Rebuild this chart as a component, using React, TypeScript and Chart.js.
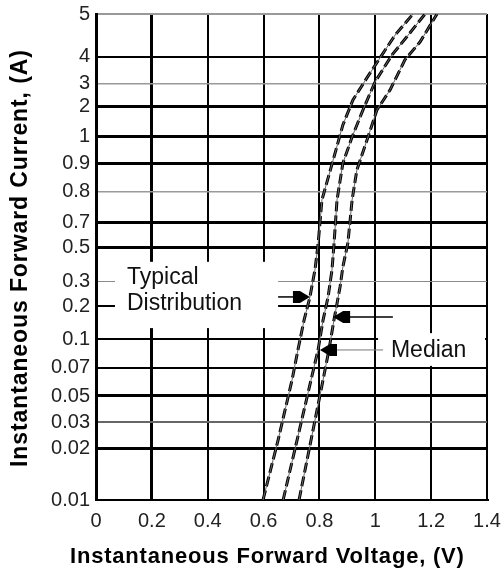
import React, { useEffect, useRef } from 'react';
import { Chart, registerables } from 'chart.js';

Chart.register(...registerables);

// ---- axis ticks ----
const xTickValues = [0, 0.2, 0.4, 0.6, 0.8, 1.0, 1.2, 1.4];
const xTickLabels = ['0', '0.2', '0.4', '0.6', '0.8', '1', '1.2', '1.4'];

const yTickValues = [0.01, 0.02, 0.03, 0.05, 0.07, 0.1, 0.2, 0.3, 0.5, 0.7, 0.8, 0.9, 1, 2, 3, 4, 5];
const yTickLabels = ['0.01', '0.02', '0.03', '0.05', '0.07', '0.1', '0.2', '0.3', '0.5', '0.7', '0.8', '0.9', '1', '2', '3', '4', '5'];
// the printed chart's own irregular current scale: relative height of each ruled line
const yTickPos = [0, 0.105, 0.16, 0.214, 0.272, 0.331, 0.399, 0.449, 0.519, 0.572, 0.634, 0.693, 0.747, 0.809, 0.856, 0.912, 1];

// ---- series (V, A) ----
const lowVoltage = [0.598, 0.652, 0.702, 0.723, 0.745, 0.766, 0.784, 0.795, 0.809, 0.849, 0.884, 0.92, 0.97, 1.024, 1.071, 1.135];
const lowCurrent = [0.01, 0.0229, 0.0606, 0.0874, 0.149, 0.233, 0.359, 0.52, 0.772, 0.911, 1.32, 2.26, 3.2, 4.04, 4.48, 5];
const medianVoltage = [0.67, 0.72, 0.77, 0.795, 0.813, 0.831, 0.845, 0.852, 0.863, 0.884, 0.917, 0.956, 0.999, 1.06, 1.113, 1.178];
const medianCurrent = [0.01, 0.0229, 0.0606, 0.0874, 0.149, 0.233, 0.359, 0.52, 0.772, 0.9, 1.0, 1.866, 3.064, 4.04, 4.44, 5];
const highVoltage = [0.727, 0.77, 0.813, 0.834, 0.852, 0.874, 0.884, 0.902, 0.917, 0.934, 0.974, 1.006, 1.053, 1.106, 1.16, 1.221];
const highCurrent = [0.01, 0.0229, 0.0606, 0.0874, 0.149, 0.276, 0.376, 0.533, 0.772, 0.875, 1.0, 1.866, 2.7, 3.87, 4.32, 5];

// ---- annotations (in V / A) ----
const noteTexts = [
  { text: 'Typical', v: 0.111, a: 0.29 },
  { text: 'Distribution', v: 0.111, a: 0.184 },
  { text: 'Median', v: 1.056, a: 0.0801 },
];
const noteArrows = [
  { fromV: 0.652, toV: 0.766, a: 0.233, line: '#000', lw: 1.5 },
  { fromV: 1.063, toV: 0.849, a: 0.159, line: '#000', lw: 1.5 },
  { fromV: 1.028, toV: 0.802, a: 0.0874, line: '#777', lw: 1 },
];
const noteMasks = [
  { v0: 0.068, v1: 0.652, aTop: 0.405, aBottom: 0.126 },
  { v0: 1.01, v1: 1.393, aTop: 0.1134, aBottom: 0.0717 },
];

// ---- styles ----
const yGridColors = ['#000', '#000', '#666', '#000', '#000', '#000', '#000', '#8a8a8a', '#000', '#000', '#999', '#000', '#000', '#000', '#999', '#000', '#999'];
const yGridWidths = [2, 3, 2, 3, 2, 2, 2, 1, 3, 3, 1.5, 3, 3, 3, 1.5, 2, 2];
const xGridWidths = [3, 3, 2, 2, 2, 2, 2, 2];
const FONT = '"Liberation Sans", Arial, Helvetica, sans-serif';

const toPos = (a: number) => {
  if (a <= yTickValues[0]) return yTickPos[0];
  for (let k = 0; k < yTickValues.length - 1; k++) {
    const lo = yTickValues[k];
    const hi = yTickValues[k + 1];
    if (a <= hi) {
      const t = Math.log(a / lo) / Math.log(hi / lo);
      return yTickPos[k] + t * (yTickPos[k + 1] - yTickPos[k]);
    }
  }
  return yTickPos[yTickPos.length - 1];
};

const pts = (vs: number[], as: number[]) => vs.map((v, i) => ({ x: v, y: toPos(as[i]) }));

const annotationPlugin = {
  id: 'dsAnnotations',
  beforeDatasetsDraw(chart: any) {
    const { ctx, scales } = chart;
    const x = scales.x;
    const y = scales.y;
    ctx.save();
    ctx.fillStyle = '#fff';
    for (const m of noteMasks) {
      const x0 = x.getPixelForValue(m.v0);
      const x1 = x.getPixelForValue(m.v1);
      const y0 = y.getPixelForValue(toPos(m.aTop));
      const y1 = y.getPixelForValue(toPos(m.aBottom));
      ctx.fillRect(x0, y0, x1 - x0, y1 - y0);
    }
    ctx.restore();
  },
  afterDatasetsDraw(chart: any) {
    const { ctx, scales } = chart;
    const x = scales.x;
    const y = scales.y;
    ctx.save();
    for (const ar of noteArrows) {
      const yy = y.getPixelForValue(toPos(ar.a));
      const xf = x.getPixelForValue(ar.fromV);
      const xt = x.getPixelForValue(ar.toV);
      const dir = xt > xf ? 1 : -1;
      ctx.strokeStyle = ar.line;
      ctx.lineWidth = ar.lw;
      ctx.beginPath();
      ctx.moveTo(xf, yy);
      ctx.lineTo(xt - dir * 12, yy);
      ctx.stroke();
      ctx.fillStyle = '#000';
      ctx.beginPath();
      ctx.moveTo(xt, yy);
      ctx.lineTo(xt - dir * 10, yy - 6);
      ctx.lineTo(xt - dir * 17, yy - 6);
      ctx.lineTo(xt - dir * 17, yy + 6);
      ctx.lineTo(xt - dir * 10, yy + 6);
      ctx.closePath();
      ctx.fill();
    }
    ctx.fillStyle = '#111';
    ctx.font = `23px ${FONT}`;
    ctx.textAlign = 'left';
    ctx.textBaseline = 'alphabetic';
    for (const t of noteTexts) {
      ctx.fillText(t.text, x.getPixelForValue(t.v), y.getPixelForValue(toPos(t.a)));
    }
    ctx.restore();
  },
  afterDraw(chart: any) {
    const { ctx } = chart;
    ctx.save();
    ctx.fillStyle = '#000';
    ctx.font = `bold 22px ${FONT}`;
    (ctx as any).letterSpacing = '0.8px';
    ctx.textAlign = 'left';
    ctx.textBaseline = 'alphabetic';
    ctx.fillText('Instantaneous Forward Voltage, (V)', 70, 563);
    ctx.font = `bold 23px ${FONT}`;
    (ctx as any).letterSpacing = '0.9px';
    ctx.translate(27, 467);
    ctx.rotate(-Math.PI / 2);
    ctx.fillText('Instantaneous Forward Current, (A)', 0, 0);
    (ctx as any).letterSpacing = '0px';
    ctx.restore();
  },
};

const curveSets = [
  { label: 'Low', data: pts(lowVoltage, lowCurrent) },
  { label: 'Median', data: pts(medianVoltage, medianCurrent) },
  { label: 'High', data: pts(highVoltage, highCurrent) },
];

export default function App() {
  const ref = useRef<HTMLCanvasElement>(null);
  useEffect(() => {
    document.body.style.margin = '0';
    const datasets: any[] = [];
    for (const c of curveSets) {
      datasets.push({
        label: c.label + ' trace',
        data: c.data,
        borderColor: '#666',
        borderWidth: 1,
        pointRadius: 0,
        tension: 0,
        fill: false,
      });
      datasets.push({
        label: c.label,
        data: c.data,
        borderColor: '#000',
        borderWidth: 3,
        borderDash: [10, 4],
        pointRadius: 0,
        tension: 0,
        fill: false,
      });
    }
    const chart = new Chart(ref.current as HTMLCanvasElement, {
      type: 'line',
      data: { datasets },
      options: {
        responsive: false,
        animation: false,
        devicePixelRatio: 1,
        events: [],
        layout: { padding: { top: 14, right: 15, left: 0, bottom: 0 } },
        plugins: {
          legend: { display: false },
          tooltip: { enabled: false },
        },
        scales: {
          x: {
            type: 'linear',
            min: 0,
            max: 1.4,
            afterBuildTicks: (s: any) => {
              s.ticks = xTickValues.map((v) => ({ value: v }));
            },
            afterFit: (s: any) => {
              s.height = 68;
              s.paddingLeft = 0;
              s.paddingRight = 0;
            },
            ticks: {
              autoSkip: false,
              maxRotation: 0,
              padding: 9,
              color: '#222',
              font: { family: FONT, size: 20 },
              callback: (_v: any, i: number) => xTickLabels[i],
            },
            grid: {
              drawTicks: false,
              color: '#000',
              lineWidth: (c: any) => xGridWidths[c.index] ?? 2,
            },
            border: { display: true, color: '#000', width: 2 },
          },
          y: {
            type: 'linear',
            min: 0,
            max: 1,
            afterBuildTicks: (s: any) => {
              s.ticks = yTickPos.map((v) => ({ value: v }));
            },
            afterFit: (s: any) => {
              s.width = 96;
              s.paddingTop = 0;
              s.paddingBottom = 0;
            },
            ticks: {
              autoSkip: false,
              padding: 6,
              color: '#222',
              font: { family: FONT, size: 20 },
              callback: (_v: any, i: number) => yTickLabels[i],
            },
            grid: {
              drawTicks: false,
              color: (c: any) => yGridColors[c.index] ?? '#000',
              lineWidth: (c: any) => yGridWidths[c.index] ?? 2,
            },
            border: { display: true, color: '#000', width: 3 },
          },
        },
      },
      plugins: [annotationPlugin],
    } as any);
    return () => chart.destroy();
  }, []);
  return (
    <div style={{ width: 502, height: 568 }}>
      <canvas ref={ref} width={502} height={568} style={{ display: 'block', width: 502, height: 568 }} />
    </div>
  );
}
